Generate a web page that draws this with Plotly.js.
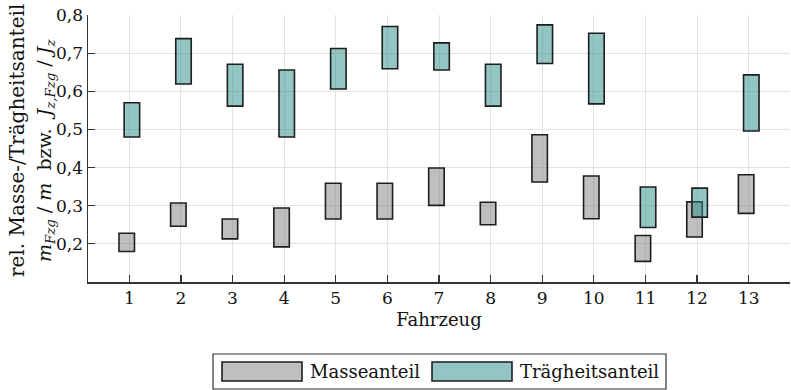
<!DOCTYPE html>
<html>
<head>
<meta charset="utf-8">
<script src="https://cdn.plot.ly/plotly-3.0.1.min.js"></script>
<style>html,body{margin:0;padding:0;background:#fff}</style>
</head>
<body>
<div id="chart" style="width:791px;height:390px"></div>
<script>
// Fahrzeuge 1..13 with min/max share of mass and of yaw inertia
const vehicles = [1, 2, 3, 4, 5, 6, 7, 8, 9, 10, 11, 12, 13];
const massLow  = [0.180, 0.246, 0.213, 0.192, 0.265, 0.265, 0.301, 0.250, 0.362, 0.266, 0.154, 0.218, 0.280];
const massHigh = [0.228, 0.307, 0.265, 0.294, 0.359, 0.359, 0.399, 0.309, 0.486, 0.378, 0.222, 0.310, 0.381];
const inertiaLow  = [0.480, 0.619, 0.561, 0.480, 0.606, 0.659, 0.656, 0.561, 0.673, 0.567, 0.243, 0.270, 0.496];
const inertiaHigh = [0.570, 0.738, 0.671, 0.656, 0.712, 0.770, 0.727, 0.671, 0.774, 0.752, 0.349, 0.346, 0.643];
const yTicks = [0.2, 0.3, 0.4, 0.5, 0.6, 0.7, 0.8];
const seriesNames = ['Masseanteil', 'Trägheitsanteil'];

const FONT = 'DejaVu Serif, Liberation Serif, serif';
const massFill = 'rgba(128,128,128,0.5)';
const inertiaFill = 'rgba(40,140,135,0.5)';
const edge = { color: '#1e1e1e', width: 1.6 };

const span = (lo, hi) => hi.map((h, i) => h - lo[i]);

const traces = [
  { type: 'bar', name: seriesNames[0], x: vehicles, base: massLow, y: span(massLow, massHigh),
    width: 0.3, offset: -0.2, marker: { color: massFill, line: edge }, showlegend: false },
  { type: 'bar', name: seriesNames[1], x: vehicles, base: inertiaLow, y: span(inertiaLow, inertiaHigh),
    width: 0.3, offset: -0.1, marker: { color: inertiaFill, line: edge }, showlegend: false }
];

// plot area in pixels, used to place the legend box below the axis
const W = 791, H = 390, L = 88, R = 1, T = 15, B = 108;
const pw = W - L - R, ph = H - T - B;
const px = x => (x - L) / pw;
const py = y => (H - B - y) / ph;

const shapes = [
  { type: 'rect', xref: 'paper', yref: 'paper', x0: px(213), x1: px(666), y0: py(389), y1: py(354),
    line: { color: '#333', width: 1.2 }, fillcolor: '#fff', layer: 'below' },
  { type: 'rect', xref: 'paper', yref: 'paper', x0: px(222), x1: px(302), y0: py(381), y1: py(362),
    line: edge, fillcolor: massFill },
  { type: 'rect', xref: 'paper', yref: 'paper', x0: px(432), x1: px(512), y0: py(381), y1: py(362),
    line: edge, fillcolor: inertiaFill }
];

const annotations = [
  { xref: 'paper', yref: 'paper', x: px(308), y: py(371.5), xanchor: 'left', yanchor: 'middle',
    text: seriesNames[0], showarrow: false, font: { family: FONT, size: 18, color: '#111' } },
  { xref: 'paper', yref: 'paper', x: px(518), y: py(371.5), xanchor: 'left', yanchor: 'middle',
    text: seriesNames[1], showarrow: false, font: { family: FONT, size: 18, color: '#111' } },
  { xref: 'paper', yref: 'paper', x: px(17), y: py(141), xanchor: 'center', yanchor: 'middle',
    textangle: -90, text: 'rel. Masse-/Trägheitsanteil', showarrow: false,
    font: { family: FONT, size: 20, color: '#111' } },
  { xref: 'paper', yref: 'paper', x: px(45), y: py(151), xanchor: 'center', yanchor: 'middle',
    textangle: -90,
    text: '<i>m</i><sub><i>Fzg</i></sub> / <i>m</i>  bzw.  <i>J</i><sub><i>z,Fzg</i></sub> / <i>J</i><sub><i>z</i></sub>',
    showarrow: false, font: { family: FONT, size: 19, color: '#111' } }
];

const layout = {
  width: W, height: H,
  margin: { l: L, r: R, t: T, b: B, pad: 0 },
  paper_bgcolor: '#fff', plot_bgcolor: '#fff',
  barmode: 'overlay',
  separators: ',.',
  font: { family: FONT, size: 17, color: '#111' },
  xaxis: {
    range: [0.2, 13.8], tickvals: vehicles, ticktext: vehicles.map(String),
    showgrid: true, gridcolor: '#e2e2e2', gridwidth: 1,
    showline: true, linecolor: '#333', linewidth: 1.5,
    ticks: 'inside', ticklen: 7, tickcolor: '#333', tickwidth: 1.2,
    zeroline: false, fixedrange: true,
    title: { text: 'Fahrzeug', font: { family: FONT, size: 18, color: '#111' }, standoff: 6 }
  },
  yaxis: {
    range: [0.1, 0.8], tickvals: yTicks, tickformat: '.1f',
    showgrid: true, gridcolor: '#e2e2e2', gridwidth: 1,
    showline: true, linecolor: '#333', linewidth: 1.5,
    ticks: 'inside', ticklen: 7, tickcolor: '#333', tickwidth: 1.2,
    zeroline: false, fixedrange: true
  },
  shapes: shapes,
  annotations: annotations,
  hovermode: false
};

Plotly.newPlot('chart', traces, layout, { displayModeBar: false, staticPlot: true });
</script>
</body>
</html>
